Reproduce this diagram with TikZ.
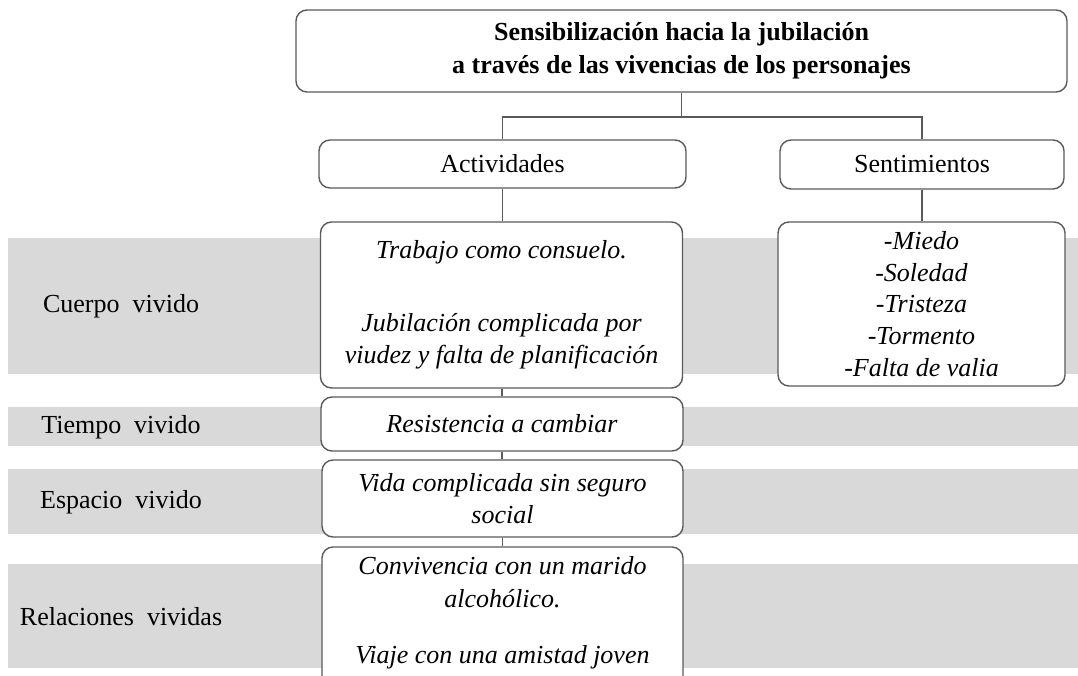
\documentclass[tikz,border=0pt]{standalone}
\usepackage{fontspec}
\setmainfont{Liberation Serif}
\definecolor{linegray}{HTML}{5A5A5A}
\definecolor{bandgray}{HTML}{D9D9D9}
\begin{document}
\begin{tikzpicture}[x=1pt,y=-1pt,
  box/.style={draw=linegray, line width=1.4pt, rounded corners=11pt, fill=white, inner sep=0pt, align=center},
  conn/.style={draw=linegray, line width=1.4pt},
  lbl/.style={font=\fontsize{26}{33}\selectfont, align=center, inner sep=0pt},
  itx/.style={font=\fontsize{26}{32.5}\selectfont\itshape, align=center}]
\useasboundingbox (0,0) rectangle (1078,675);
\clip (0,0) rectangle (1078,675);
\fill[white] (0,0) rectangle (1078,675);
% bands
\fill[bandgray] (8,238) rectangle (1078,374);
\fill[bandgray] (8,407) rectangle (1078,446);
\fill[bandgray] (8,469) rectangle (1078,534);
\fill[bandgray] (8,564) rectangle (1078,668);
% row labels
\node[lbl] (lcuerpo) at (121,306) {Cuerpo\ \ vivido};
\node[lbl] (ltiempo) at (121,427) {Tiempo\ \ vivido};
\node[lbl] (lespacio) at (121,502) {Espacio\ \ vivido};
\node[lbl] (lrel) at (121,617) {Relaciones\ \ vividas};
% header boxes
\node[box, minimum width=771pt, minimum height=82pt, font=\bfseries\fontsize{26}{33}\selectfont] (top) at (681.5,51)
  {Sensibilización hacia la jubilación\\a través de las vivencias de los personajes};
\node[box, minimum width=367pt, minimum height=48pt, font=\fontsize{26}{33}\selectfont] (act) at (502.5,164) {Actividades};
\node[box, minimum width=284pt, minimum height=49pt, font=\fontsize{26}{33}\selectfont] (sen) at (922,164.5) {Sentimientos};
% content boxes
\node[box, itx, minimum width=362pt, minimum height=166pt] (cbox) at (501.5,305)
  {Trabajo como consuelo.\\[40pt]Jubilación complicada por\\viudez y falta de planificación};
\node[box, itx, minimum width=287pt, minimum height=164pt, font=\fontsize{26}{31.7}\selectfont\itshape] (sbox) at (921.5,304)
  {-Miedo\\-Soledad\\-Tristeza\\-Tormento\\-Falta de valia};
\node[box, itx, minimum width=362pt, minimum height=54pt] (tbox) at (502,424) {Resistencia a cambiar};
\node[box, itx, minimum width=361pt, minimum height=77pt] (ebox) at (502.5,498.5) {Vida complicada sin seguro\\social};
\node[box, minimum width=361pt, minimum height=153pt] (rbox) at (502.5,623.5) {};
\node[itx] (rtext) at (502.5,613) {Convivencia con un marido\\alcohólico.\\[24pt]Viaje con una amistad joven};
% connectors
\coordinate (jt) at (681.5,117);
\draw[conn] (top.south) -- (jt);
\draw[conn] (act.north) |- (jt) -| (sen.north);
\draw[conn] (act.south) -- (act.south |- cbox.north);
\draw[conn] (sen.south) -- (sen.south |- sbox.north);
\draw[conn] (tbox.north |- cbox.south) -- (tbox.north);
\draw[conn] (tbox.south) -- (tbox.south |- ebox.north);
\draw[conn] (ebox.south) -- (ebox.south |- rbox.north);
\end{tikzpicture}
\end{document}
